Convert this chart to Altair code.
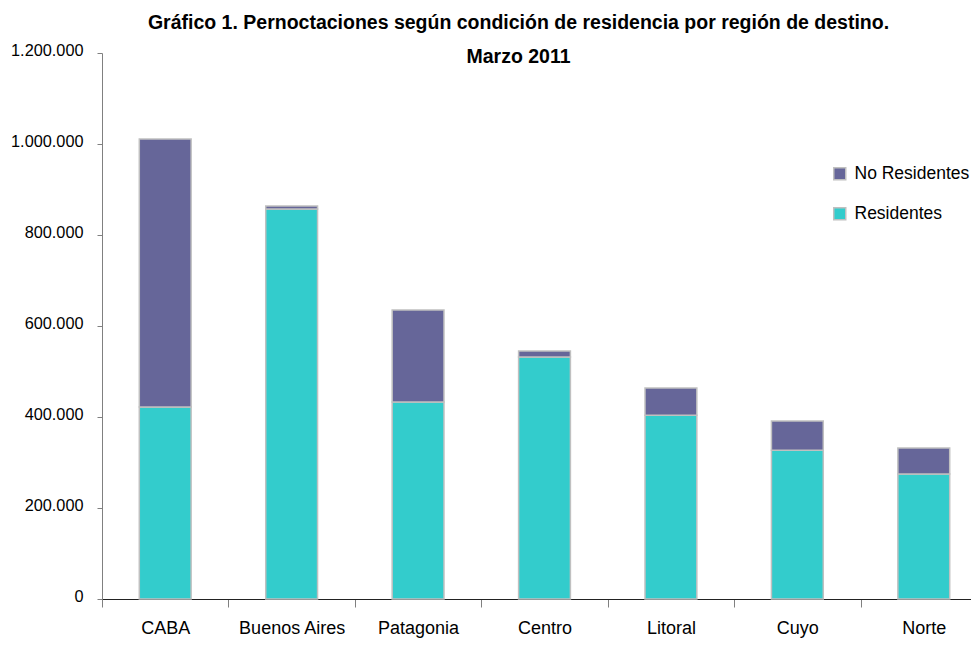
import altair as alt
import pandas as pd

regiones = ["CABA", "Buenos Aires", "Patagonia", "Centro", "Litoral", "Cuyo", "Norte"]
residentes = [422000, 857000, 433000, 532000, 404000, 327000, 275000]
no_residentes = [589000, 7000, 202000, 13000, 60000, 64000, 57000]
series = ["No Residentes", "Residentes"]
colores = ["#666699", "#33CCCC"]
y_ticks = [0, 200000, 400000, 600000, 800000, 1000000, 1200000]

rows = []
for r, res, nres in zip(regiones, residentes, no_residentes):
    rows.append({"region": r, "serie": "Residentes", "valor": res, "ord": 0})
    rows.append({"region": r, "serie": "No Residentes", "valor": nres, "ord": 1})
df = pd.DataFrame(rows)

FONT = "Liberation Sans"

chart = alt.Chart(df).mark_bar(
    stroke="#C0C0C0", strokeWidth=1.5, width=alt.RelativeBandSize(0.41)
).encode(
    x=alt.X("region:N", sort=regiones, title=None,
            scale=alt.Scale(paddingInner=0, paddingOuter=0),
            axis=alt.Axis(labelAngle=0, tickBand="extent", tickSize=8,
                          tickColor="#808080", domainColor="#222222",
                          labelFont=FONT, labelFontSize=18, labelColor="#000000",
                          labelBaseline="middle", labelPadding=21)),
    y=alt.Y("valor:Q", stack="zero", title=None,
            scale=alt.Scale(domain=[0, 1200000], nice=False),
            axis=alt.Axis(values=y_ticks, format=",d", grid=False, tickSize=5,
                          tickColor="#808080", domainColor="#808080",
                          labelFont=FONT, labelFontSize=16.3, labelColor="#000000",
                          labelPadding=14, labelOffset=-3)),
    color=alt.Color("serie:N", scale=alt.Scale(domain=series, range=colores),
                    legend=alt.Legend(title=None, orient="none", legendX=729, legendY=112,
                                      symbolType="square", symbolSize=144,
                                      symbolStrokeColor="#C0C0C0", symbolStrokeWidth=1.5,
                                      labelFont=FONT, labelFontSize=17.5, labelColor="#000000",
                                      labelOffset=6, rowPadding=21, padding=0)),
    order=alt.Order("ord:Q", sort="ascending"),
).properties(
    width=885,
    height=546,
    autosize=alt.AutoSizeParams(type="none"),
    padding={"left": 94, "top": 45, "right": -16, "bottom": 39},
    title=alt.Title(
        text=["Gráfico 1. Pernoctaciones según condición de residencia por región de destino.",
              "Marzo 2011"],
        font=FONT, fontSize=19.5, fontWeight="bold", color="#000000",
        anchor="middle", dx=-26, offset=-25, lineHeight=34,
    ),
).configure(
    locale={"number": {"decimal": ",", "thousands": ".", "grouping": [3], "currency": ["$", ""]}}
).configure_view(stroke=None)

chart.save("out.html", embed_options={"renderer": "svg", "actions": False})
